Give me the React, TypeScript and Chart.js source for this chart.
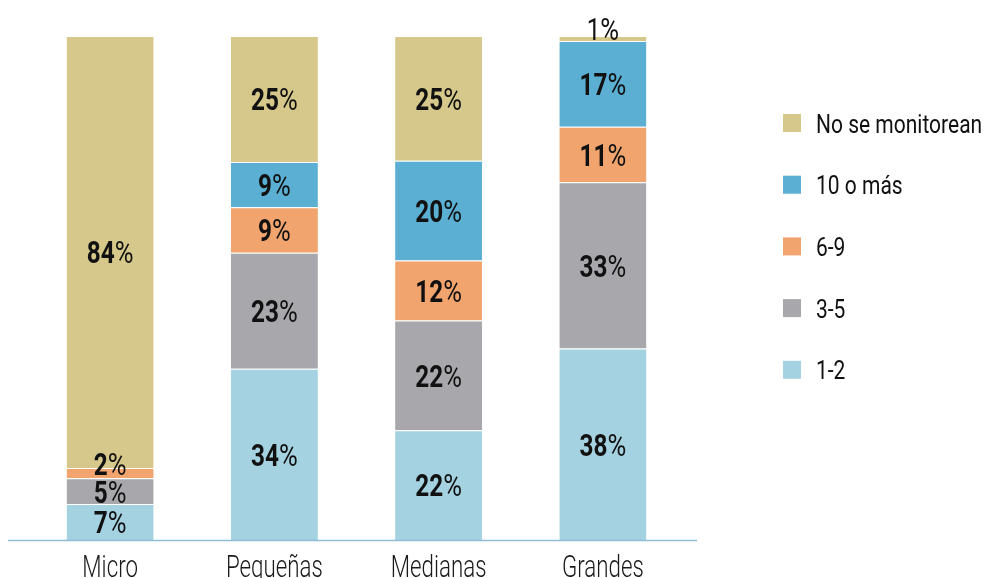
import { useEffect, useRef } from 'react';
import { Chart, registerables } from 'chart.js';

Chart.register(...registerables);

const categories = ['Micro', 'Pequeñas', 'Medianas', 'Grandes'];
const seriesNames = ['1-2', '3-5', '6-9', '10 o más', 'No se monitorean'];
const values12 = [7, 34, 22, 38];
const values35 = [5, 23, 22, 33];
const values69 = [2, 9, 12, 11];
const values10 = [0, 9, 20, 17];
const valuesNo = [84, 25, 25, 1];
const seriesColors = ['#A5D2E1', '#A8A8AC', '#F2A46E', '#5AAFD2', '#D5C88A'];

const rawSeries = [values12, values35, values69, values10, valuesNo];
const totals = categories.map((_, i) => rawSeries.reduce((s, arr) => s + arr[i], 0));

const FONT = 'Roboto, "Noto Sans", sans-serif';

function drawSqueezed(ctx: any, text: string, x: number, y: number, sx: number) {
  ctx.save();
  ctx.translate(x, y);
  ctx.scale(sx, 1);
  ctx.fillText(text, 0, 0);
  ctx.restore();
}

const labelPlugin = {
  id: 'segLabels',
  afterDatasetsDraw(chart: any) {
    const ctx = chart.ctx;
    const size = 32;
    const sxNum = 0.76;
    const sxPct = 0.8;
    ctx.save();
    ctx.textBaseline = 'alphabetic';
    ctx.textAlign = 'left';
    ctx.fillStyle = '#111';
    chart.data.datasets.forEach((ds: any, di: number) => {
      const meta = chart.getDatasetMeta(di);
      meta.data.forEach((el: any, j: number) => {
        const raw = rawSeries[di][j];
        if (!raw) return;
        let y = (el.y + el.base) / 2;
        if (raw <= 2) y -= 10;
        const base = y + size * 0.711 / 2;
        const num = String(raw);
        const numFont = `${raw > 1 ? '700' : '400'} ${size}px ${FONT}`;
        const pctFont = `400 ${size}px ${FONT}`;
        ctx.font = numFont;
        const w1 = ctx.measureText(num).width * sxNum;
        ctx.font = pctFont;
        const w2 = ctx.measureText('%').width * sxPct;
        const gap = 0;
        const x0 = el.x - (w1 + gap + w2) / 2;
        ctx.font = numFont;
        drawSqueezed(ctx, num, x0, base, sxNum);
        ctx.font = pctFont;
        drawSqueezed(ctx, '%', x0 + w1 + gap, base, sxPct);
      });
    });
    ctx.restore();
  },
};

const axisPlugin = {
  id: 'axisLineAndLabels',
  afterDatasetsDraw(chart: any) {
    const ctx = chart.ctx;
    const y = chart.chartArea.bottom + 0.5;
    ctx.save();
    ctx.strokeStyle = '#8FBCD6';
    ctx.lineWidth = 1.5;
    ctx.beginPath();
    ctx.moveTo(8, y);
    ctx.lineTo(697, y);
    ctx.stroke();
    const xs = chart.scales.x;
    ctx.font = `300 31px ${FONT}`;
    ctx.fillStyle = '#1a1a1a';
    ctx.textBaseline = 'alphabetic';
    ctx.textAlign = 'left';
    const sx = 0.72;
    (chart.data.labels as string[]).forEach((lab, i) => {
      const cx = xs.getPixelForValue(i);
      const w = ctx.measureText(lab).width * sx;
      drawSqueezed(ctx, lab, cx - w / 2, 577, sx);
    });
    ctx.restore();
  },
};

const legendPlugin = {
  id: 'customLegend',
  afterDraw(chart: any) {
    const ctx = chart.ctx;
    ctx.save();
    ctx.textBaseline = 'alphabetic';
    ctx.textAlign = 'left';
    ctx.font = `400 25px ${FONT}`;
    const sx = 0.84;
    const n = chart.data.datasets.length;
    for (let k = 0; k < n; k++) {
      const di = n - 1 - k;
      const ds = chart.data.datasets[di];
      const cy = 123 + k * 61.7;
      ctx.fillStyle = ds.backgroundColor;
      ctx.fillRect(783, cy - 9, 18, 18);
      ctx.fillStyle = '#111';
      drawSqueezed(ctx, ds.label, 816, cy + 9.5, sx);
    }
    ctx.restore();
  },
};

export default function App() {
  const ref = useRef<HTMLCanvasElement>(null);
  useEffect(() => {
    if (!ref.current) return;
    const chart = new Chart(ref.current, {
      type: 'bar',
      data: {
        labels: categories,
        datasets: rawSeries.map((arr, di) => ({
          label: seriesNames[di],
          data: arr.map((v, i) => (v / totals[i]) * 100),
          backgroundColor: seriesColors[di],
          borderColor: '#ffffff',
          borderWidth: { top: 1, bottom: 0, left: 0, right: 0 },
          borderSkipped: false,
          categoryPercentage: 1,
          barPercentage: 0.53,
        })),
      },
      options: {
        responsive: false,
        animation: false,
        layout: { padding: { left: 28, right: 306, top: 36, bottom: 38 } },
        plugins: { legend: { display: false }, tooltip: { enabled: false } },
        scales: {
          x: {
            stacked: true,
            display: false,
          },
          y: {
            stacked: true,
            display: false,
            min: 0,
            max: 100,
          },
        },
      },
      plugins: [axisPlugin, labelPlugin, legendPlugin],
    });
    return () => chart.destroy();
  }, []);
  return (
    <div style={{ position: 'fixed', left: 0, top: 0, width: 991, height: 578, background: '#fff' }}>
      <canvas ref={ref} width={991} height={578} />
    </div>
  );
}
